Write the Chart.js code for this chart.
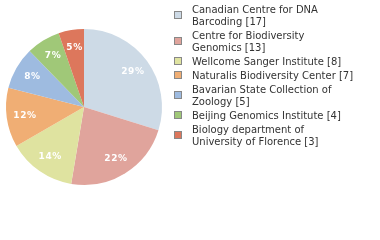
<!DOCTYPE html>
<html>
<head>
<meta charset="utf-8">
<script src="https://cdn.jsdelivr.net/npm/chart.js@4"></script>
<style>
  body { margin: 0; background: #fff; }
  #wrap { width: 380px; height: 240px; }
</style>
</head>
<body>
<div id="wrap"><canvas id="chart" width="380" height="240"></canvas></div>
<script>
// institutions, legend text broken into lines like in the picture
const labelLines = [
  ['Canadian Centre for DNA', 'Barcoding [17]'],
  ['Centre for Biodiversity', 'Genomics [13]'],
  ['Wellcome Sanger Institute [8]'],
  ['Naturalis Biodiversity Center [7]'],
  ['Bavarian State Collection of', 'Zoology [5]'],
  ['Beijing Genomics Institute [4]'],
  ['Biology department of', 'University of Florence [3]']
]
const counts = [17, 13, 8, 7, 5, 4, 3]
const colors = ['#cddae6', '#e0a49c', '#dfe3a0', '#f0ae74', '#9ebbe0', '#a0c878', '#dd775c']

const total = counts.reduce((a, b) => a + b, 0)

// percent text inside slices + legend on the right
const extras = {
  id: 'extras',
  afterDraw(chart) {
    const ctx = chart.ctx
    const meta = chart.getDatasetMeta(0)
    ctx.save()
    ctx.fillStyle = '#fff'
    ctx.font = 'bold 9px "DejaVu Sans"'
    ctx.letterSpacing = '0.6px'
    ctx.textAlign = 'center'
    ctx.textBaseline = 'middle'
    meta.data.forEach((arc, i) => {
      const p = arc.getProps(['x', 'y', 'startAngle', 'endAngle', 'outerRadius'], true)
      const mid = (p.startAngle + p.endAngle) / 2
      const r = p.outerRadius * 0.77
      const pct = Math.floor(counts[i] / total * 100) + '%'
      ctx.fillText(pct, p.x + Math.cos(mid) * r + 0.5, p.y + Math.sin(mid) * r)
    })

    // legend
    ctx.letterSpacing = '0px'
    ctx.font = '10px "DejaVu Sans"'
    ctx.textAlign = 'left'
    let y = 10
    labelLines.forEach((lines, i) => {
      const h = (lines.length - 1) * 12
      const by = Math.round(y + h / 2 - 5) + 0.5
      ctx.fillStyle = colors[i]
      ctx.fillRect(174.5, by, 7, 7)
      ctx.strokeStyle = '#888'
      ctx.lineWidth = 1
      ctx.strokeRect(174.5, by, 7, 7)
      ctx.fillStyle = '#333'
      lines.forEach((t, j) => ctx.fillText(t, 192, y + j * 12))
      y += h + 14
    })
    ctx.restore()
  }
}

new Chart(document.getElementById('chart'), {
  type: 'pie',
  data: {
    labels: labelLines.map(l => l.join(' ')),
    datasets: [{
      data: counts,
      backgroundColor: colors,
      borderWidth: 0
    }]
  },
  options: {
    responsive: false,
    animation: false,
    layout: { padding: { left: 6, top: 29, right: 218, bottom: 55 } },
    plugins: {
      legend: { display: false },
      tooltip: { enabled: false }
    }
  },
  plugins: [extras]
})
</script>
</body>
</html>
